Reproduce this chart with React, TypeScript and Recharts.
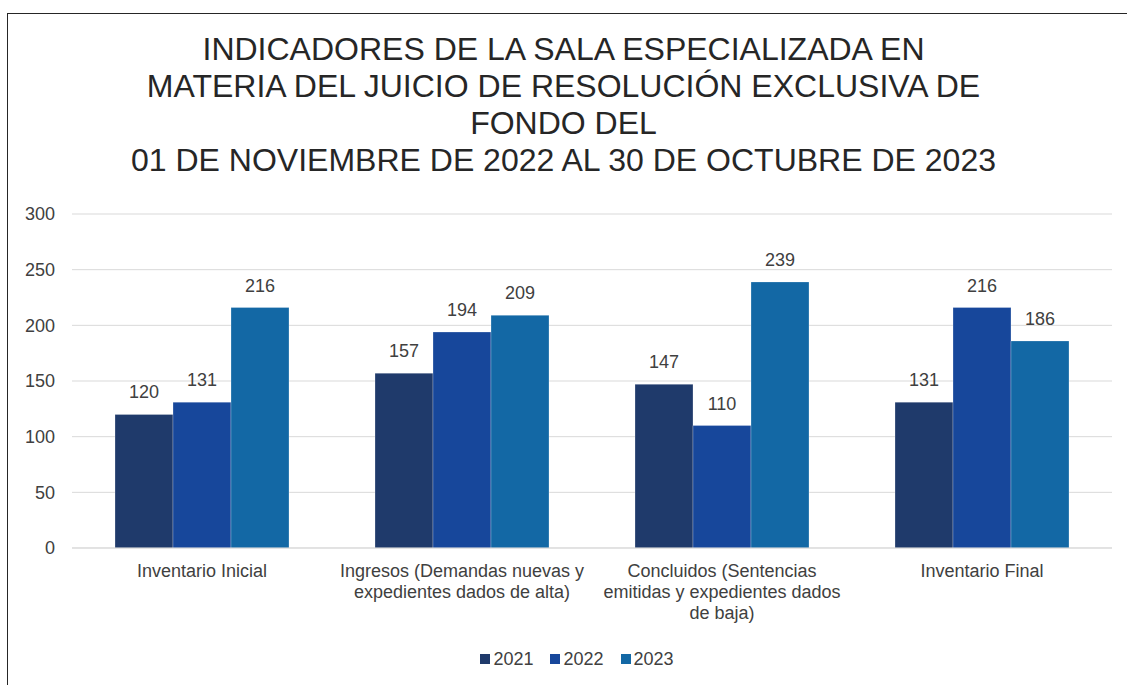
import React from "react";
import { BarChart, Bar, XAxis, YAxis, CartesianGrid, Legend, LabelList, Text } from "recharts";

const titleLines = [
  "INDICADORES DE LA SALA ESPECIALIZADA EN",
  "MATERIA DEL JUICIO DE RESOLUCIÓN EXCLUSIVA DE",
  "FONDO DEL",
  "01 DE NOVIEMBRE DE 2022 AL 30 DE OCTUBRE DE 2023",
];

const categories = [
  "Inventario Inicial",
  "Ingresos (Demandas nuevas y expedientes dados de alta)",
  "Concluidos (Sentencias emitidas y expedientes dados de baja)",
  "Inventario Final",
];

const values2021 = [120, 157, 147, 131];
const values2022 = [131, 194, 110, 216];
const values2023 = [216, 209, 239, 186];

const yTicks = [0, 50, 100, 150, 200, 250, 300];

const seriesNames = ["2021", "2022", "2023"];
const seriesColors = ["#1F3A6B", "#17479B", "#1368A5"];
const seriesKeys = ["v2021", "v2022", "v2023"];

const data = categories.map((c, i) => ({
  name: c,
  v2021: values2021[i],
  v2022: values2022[i],
  v2023: values2023[i],
}));

const FONT = '"Liberation Sans", Arial, sans-serif';

const XTick = (props: any) => {
  const { x, y, payload } = props;
  return (
    <Text
      x={x}
      y={y}
      width={228}
      textAnchor="middle"
      verticalAnchor="start"
      lineHeight={21}
      fontSize={18}
      fill="#404040"
      fontFamily={FONT}
      style={{ fontSize: 18, fontFamily: FONT }}
    >
      {payload.value}
    </Text>
  );
};

const LegendContent = () => (
  <div
    style={{
      display: "flex",
      justifyContent: "center",
      alignItems: "center",
      height: 30,
      paddingLeft: 30,
      fontFamily: FONT,
      fontSize: 18,
      color: "#404040",
    }}
  >
    {seriesNames.map((n, i) => (
      <div key={n} style={{ display: "flex", alignItems: "center", marginLeft: i === 0 ? 0 : 17 }}>
        <span style={{ width: 10, height: 10, background: seriesColors[i], display: "inline-block", marginRight: 3 }} />
        <span>{n}</span>
      </div>
    ))}
  </div>
);

export default function App() {
  return (
    <div style={{ position: "absolute", left: 0, top: 0, width: 1127, height: 685, overflow: "hidden", background: "#fff" }}>
      <div
        style={{
          position: "absolute",
          left: 7,
          top: 13,
          width: 1300,
          height: 800,
          borderLeft: "1px solid #262626",
          borderTop: "1px solid #262626",
        }}
      />
      <div
        style={{
          position: "absolute",
          left: 0,
          top: 31,
          width: 1127,
          textAlign: "center",
          fontFamily: FONT,
          fontSize: 32,
          lineHeight: "37px",
          color: "#262626",
        }}
      >
        {titleLines.map((l) => (
          <div key={l}>{l}</div>
        ))}
      </div>
      <div style={{ position: "absolute", left: 0, top: 0 }}>
        <BarChart
          width={1127}
          height={685}
          data={data}
          margin={{ top: 214, right: 15, bottom: 11, left: 12 }}
          barCategoryGap={43}
          barGap={0}
        >
          <CartesianGrid vertical={false} stroke="#D9D9D9" />
          <XAxis
            dataKey="name"
            axisLine={{ stroke: "#D9D9D9" }}
            tickLine={false}
            tickSize={0}
            tickMargin={16}
            height={96}
            interval={0}
            tick={<XTick />}
          />
          <YAxis
            domain={[0, 300]}
            ticks={yTicks}
            axisLine={false}
            tickLine={false}
            tickSize={0}
            tickMargin={17}
            width={60}
            tick={{ fontSize: 18, fill: "#404040", fontFamily: FONT }}
          />
          <Legend verticalAlign="bottom" height={30} content={<LegendContent />} />
          {seriesKeys.map((k, i) => (
            <Bar
              key={k}
              dataKey={k}
              name={seriesNames[i]}
              fill={seriesColors[i]}
              stroke="rgba(255,255,255,0.25)"
              strokeWidth={1}
              isAnimationActive={false}
            >
              <LabelList
                dataKey={k}
                position="top"
                offset={16}
                fontSize={18}
                fill="#404040"
                fontFamily={FONT}
              />
            </Bar>
          ))}
        </BarChart>
      </div>
    </div>
  );
}
